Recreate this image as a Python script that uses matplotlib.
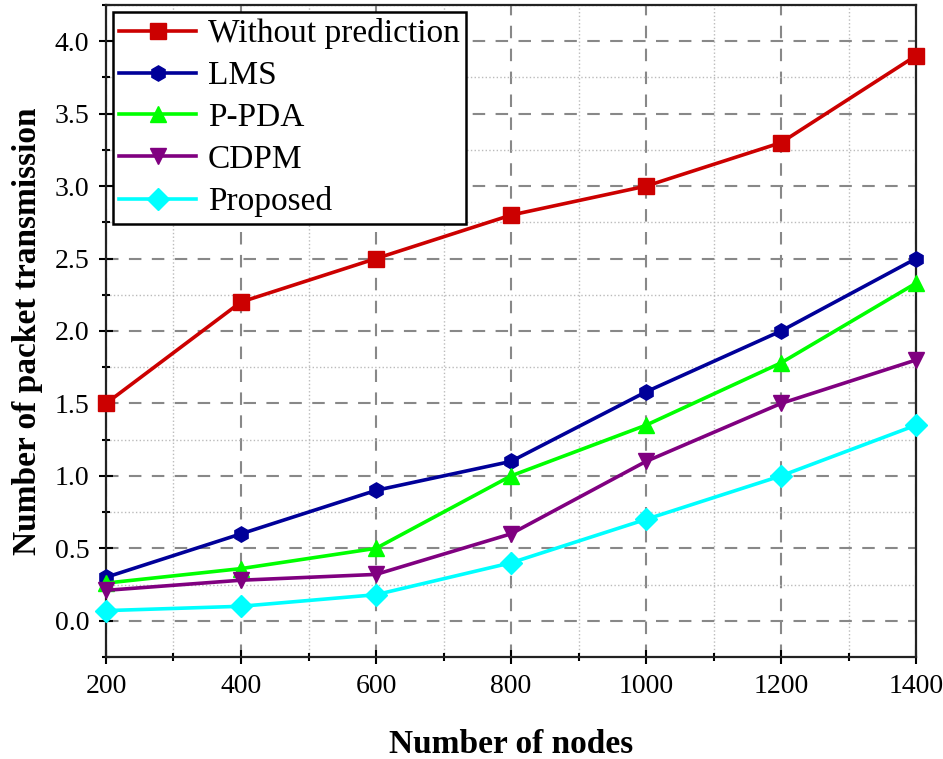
import matplotlib.pyplot as plt
from matplotlib.ticker import MultipleLocator

nodes = [200, 400, 600, 800, 1000, 1200, 1400]
without_pred = [1.5, 2.2, 2.5, 2.8, 3.0, 3.3, 3.9]
lms = [0.3, 0.6, 0.9, 1.1, 1.58, 2.0, 2.5]
ppda = [0.26, 0.36, 0.5, 1.0, 1.35, 1.78, 2.33]
cdpm = [0.21, 0.28, 0.32, 0.6, 1.1, 1.5, 1.8]
proposed = [0.07, 0.1, 0.18, 0.4, 0.7, 1.0, 1.35]

series = [
    ("Without prediction", without_pred, "#cc0000", "s"),
    ("LMS", lms, "#000099", "h"),
    ("P-PDA", ppda, "#00ff00", "^"),
    ("CDPM", cdpm, "#800080", "v"),
    ("Proposed", proposed, "#00ffff", "D"),
]

plt.rcParams['font.family'] = ['Liberation Serif', 'DejaVu Serif']

fig = plt.figure(figsize=(9.43, 7.59), dpi=100)
ax = fig.add_axes([0.1124, 0.1344, 0.859, 0.859])

for name, vals, col, mk in series:
    ax.plot(nodes, vals, color=col, marker=mk, markersize=11, linewidth=2.6,
            label=name, clip_on=False, zorder=3)

ax.set_xlim(200, 1400)
ax.set_ylim(-0.25, 4.25)
ax.xaxis.set_major_locator(MultipleLocator(200))
ax.xaxis.set_minor_locator(MultipleLocator(100))
ax.yaxis.set_minor_locator(MultipleLocator(0.25))
yt = [0.0, 0.5, 1.0, 1.5, 2.0, 2.5, 3.0, 3.5, 4.0]
ax.set_yticks(yt)
ax.set_yticklabels([f"{v:.1f}" for v in yt])

ax.grid(which='major', color='#888888', linestyle=(0, (6, 5)), linewidth=1.5)
ax.grid(which='minor', color='#bbbbbb', linestyle=':', linewidth=1.0)
ax.set_axisbelow(True)

ax.tick_params(which='major', direction='inout', length=10, width=1.5, labelsize=20, pad=7)
ax.tick_params(which='minor', direction='inout', length=6, width=1.5)
for s in ax.spines.values():
    s.set_linewidth(1.6)
    s.set_color('#222222')

ax.set_xlabel("Number of nodes", fontsize=24, fontweight='bold', labelpad=22)
ax.set_ylabel("Number of packet transmission", fontsize=24, fontweight='bold', labelpad=8)

leg = ax.legend(loc='upper left', fontsize=24, frameon=True, fancybox=False,
                edgecolor='black', framealpha=1, borderpad=0.2, labelspacing=0.34,
                handlelength=2.3, handletextpad=0.35, borderaxespad=0.2)
leg.get_frame().set_linewidth(1.8)

fig.savefig("out.png", dpi=100)
